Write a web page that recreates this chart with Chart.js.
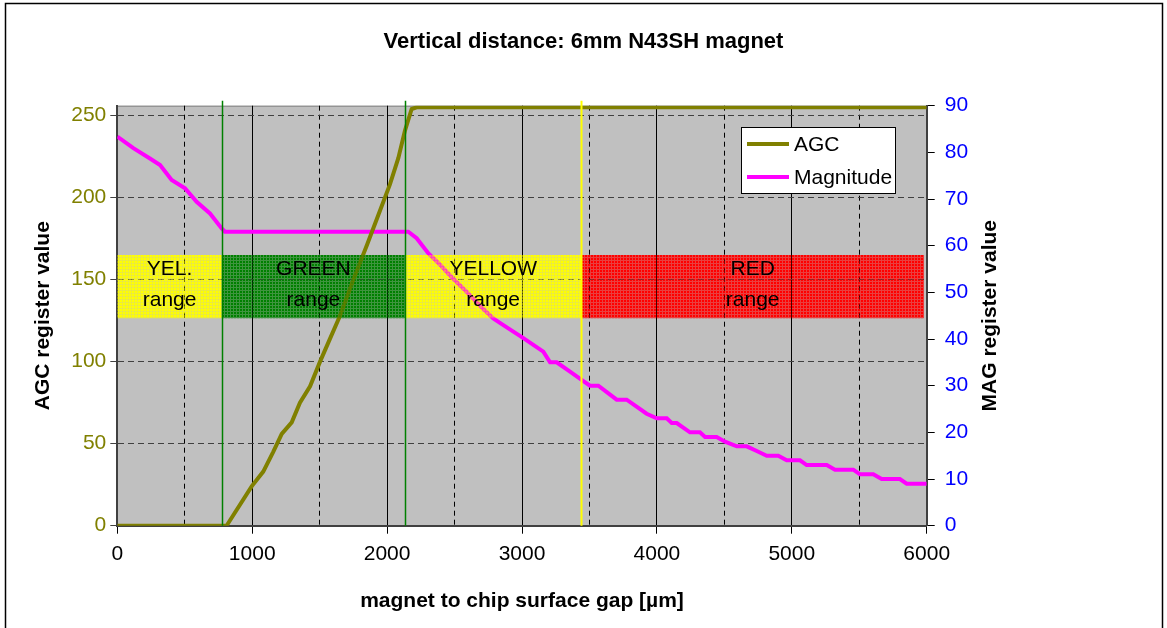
<!DOCTYPE html>
<html>
<head>
<meta charset="utf-8">
<title>Vertical distance: 6mm N43SH magnet</title>
<script src="https://cdn.jsdelivr.net/npm/chart.js@4/dist/chart.umd.min.js"></script>
<style>
html, body { margin: 0; padding: 0; background: #fff; }
canvas { display: block; }
</style>
</head>
<body>
<canvas id="chart" width="1167" height="628"></canvas>
<script>
// gap in µm, AGC register (left axis)
const agcGap   = [0, 810, 996, 1082, 1156, 1219, 1293, 1354, 1429, 1503, 1577, 1651, 1750, 1850, 1947, 2021, 2083, 2133, 2182, 2219, 6000];
const agcValue = [0, 0, 24, 33, 45, 56, 63, 75, 85, 100, 114, 128, 150, 171, 192, 208, 224, 241, 254, 255, 255];

// gap in µm, magnitude register (right axis)
const magGap   = [0, 119, 242, 317, 403, 502, 588, 687, 774, 798, 2157, 2219, 2305, 2390, 2480, 2590, 2689, 2787, 2839, 3010, 3158, 3208, 3257, 3356, 3455, 3504, 3566, 3702, 3776, 3924, 3999, 4073, 4110, 4147, 4245, 4319, 4357, 4443, 4505, 4592, 4666, 4740, 4814, 4900, 4962, 5061, 5110, 5259, 5320, 5456, 5505, 5604, 5666, 5801, 5852, 6000];
const magValue = [83.4, 80.9, 78.7, 77.3, 74.1, 72.3, 69.4, 66.9, 63.7, 63, 63, 61.6, 58.4, 56, 53.2, 50.1, 47.1, 44.4, 43.4, 40.2, 37.3, 35, 35, 33, 31, 30, 30, 27, 27, 24, 23, 23, 22, 22, 20, 20, 19, 19, 18, 17, 17, 16, 15, 15, 14, 14, 13, 13, 12, 12, 11, 11, 10, 10, 9, 9];

// tick values
const agcTicks = [0, 50, 100, 150, 200, 250];
const magTicks = [0, 10, 20, 30, 40, 50, 60, 70, 80, 90];

// range bands (gap µm, AGC units)
const bandLabels = [['YEL.', 'range'], ['GREEN', 'range'], ['YELLOW', 'range'], ['RED', 'range']];
const bandFrom   = [0, 775, 2133, 3440];
const bandTo     = [775, 2133, 3440, 5980];
const bandColors = ['#ffff00', '#008000', '#ffff00', '#ff0000'];
const bandLow = 126.5;
const bandHigh = 165;

// vertical marker lines
const markerGap    = [775, 2133, 3440];
const markerColors = ['#008000', '#008000', '#ffff00'];

const family = "Arial, 'Liberation Sans', sans-serif";

function hatch(color) {
    const c = document.createElement('canvas');
    c.width = 3; c.height = 3;
    const g = c.getContext('2d');
    g.globalAlpha = 0.55;
    g.fillStyle = color;
    g.fillRect(0, 0, 3, 3);
    g.globalAlpha = 1;
    g.fillRect(0, 0, 2, 2);
    return g.createPattern(c, 'repeat');
}

function drawBands(chart, alpha) {
    const {ctx, scales: {x, y}} = chart;
    ctx.save();
    ctx.globalAlpha = alpha;
    const top = y.getPixelForValue(bandHigh);
    const bottom = y.getPixelForValue(bandLow);
    for (let i = 0; i < bandFrom.length; i++) {
        const l = x.getPixelForValue(bandFrom[i]);
        const r = x.getPixelForValue(bandTo[i]);
        ctx.fillStyle = hatch(bandColors[i]);
        ctx.fillRect(l, top, r - l, bottom - top);
    }
    ctx.restore();
}

const bandPlugin = {
    id: 'bands',
    beforeDraw(chart) {
        const {ctx, chartArea: a} = chart;
        ctx.save();
        ctx.fillStyle = '#c0c0c0';
        ctx.fillRect(a.left, a.top, a.right - a.left, a.bottom - a.top);
        ctx.strokeStyle = '#808080';
        ctx.lineWidth = 1;
        ctx.beginPath();
        ctx.moveTo(a.left, a.top + 0.5);
        ctx.lineTo(a.right, a.top + 0.5);
        ctx.stroke();
        ctx.restore();
        drawBands(chart, 1);
    },
    afterDatasetsDraw(chart) {
        drawBands(chart, 0.5);
        const {ctx, chartArea: a, scales: {x, y}} = chart;
        ctx.save();
        // marker lines
        for (let i = 0; i < markerGap.length; i++) {
            const px = Math.round(x.getPixelForValue(markerGap[i])) + 0.5;
            ctx.strokeStyle = markerColors[i];
            ctx.lineWidth = i === 2 ? 2 : 1.5;
            ctx.beginPath();
            ctx.moveTo(px, a.top - 5);
            ctx.lineTo(px, a.bottom);
            ctx.stroke();
        }
        // band labels
        const mid = y.getPixelForValue((bandLow + bandHigh) / 2);
        ctx.fillStyle = '#000';
        ctx.font = '21px ' + family;
        ctx.textAlign = 'center';
        ctx.textBaseline = 'middle';
        for (let i = 0; i < bandLabels.length; i++) {
            const cx = x.getPixelForValue((bandFrom[i] + bandTo[i]) / 2);
            ctx.fillText(bandLabels[i][0], cx, mid - 17);
            ctx.fillText(bandLabels[i][1], cx, mid + 14);
        }
        ctx.restore();
    },
    afterDraw(chart) {
        const {ctx} = chart;
        ctx.save();
        // legend
        ctx.fillStyle = '#fff';
        ctx.fillRect(741, 127, 154, 66);
        ctx.strokeStyle = '#000';
        ctx.lineWidth = 1;
        ctx.strokeRect(741.5, 127.5, 154, 66);
        const rows = [144, 177];
        chart.data.datasets.forEach((ds, i) => {
            ctx.strokeStyle = ds.borderColor;
            ctx.lineWidth = 4;
            ctx.beginPath();
            ctx.moveTo(747, rows[i]);
            ctx.lineTo(789, rows[i]);
            ctx.stroke();
            ctx.fillStyle = '#000';
            ctx.font = '21px ' + family;
            ctx.textAlign = 'left';
            ctx.textBaseline = 'middle';
            ctx.fillText(ds.label, 794, rows[i] + 1);
        });
        // right axis title, reads bottom to top
        const y1 = chart.scales.y1;
        ctx.translate(990, (y1.top + y1.bottom) / 2);
        ctx.rotate(-Math.PI / 2);
        ctx.font = 'bold 21px ' + family;
        ctx.textAlign = 'center';
        ctx.fillText('MAG register value', 0, 0);
        ctx.restore();
        // outer frame
        ctx.save();
        ctx.strokeStyle = '#000';
        ctx.lineWidth = 1.5;
        ctx.strokeRect(5.5, 3.5, 1157, 640);
        ctx.restore();
    }
};

new Chart(document.getElementById('chart'), {
    type: 'line',
    data: {
        datasets: [{
            label: 'AGC',
            data: agcGap.map((g, i) => ({x: g, y: agcValue[i]})),
            yAxisID: 'y',
            borderColor: '#808000',
            borderWidth: 4,
            pointRadius: 0,
            tension: 0
        }, {
            label: 'Magnitude',
            data: magGap.map((g, i) => ({x: g, y: magValue[i]})),
            yAxisID: 'y1',
            borderColor: '#ff00ff',
            borderWidth: 4,
            pointRadius: 0,
            tension: 0
        }]
    },
    options: {
        responsive: false,
        animation: false,
        events: [],
        layout: { padding: 0 },
        plugins: {
            legend: { display: false },
            tooltip: { enabled: false },
            title: {
                display: true,
                text: 'Vertical distance: 6mm N43SH magnet',
                color: '#000',
                font: { family: family, size: 22, weight: 'bold' },
                padding: { top: 29, bottom: 50.3 }
            }
        },
        scales: {
            x: {
                type: 'linear',
                min: 0,
                max: 6000,
                afterFit: s => { s.height = 102.3; },
                ticks: {
                    stepSize: 500,
                    autoSkip: false,
                    maxRotation: 0,
                    color: '#000',
                    font: { family: family, size: 21 },
                    padding: 8,
                    callback: v => v % 1000 === 0 ? String(v) : ''
                },
                grid: {
                    color: '#000',
                    lineWidth: 1,
                    tickLength: 8,
                    tickColor: c => (c.tick && c.tick.value % 1000 === 0) ? '#000' : 'rgba(0,0,0,0)'
                },
                border: {
                    color: '#404040',
                    width: 2,
                    dash: c => (c.tick && c.tick.value % 1000 !== 0) ? [5, 4] : []
                },
                title: {
                    display: true,
                    text: 'magnet to chip surface gap [µm]',
                    color: '#000',
                    font: { family: family, size: 21, weight: 'bold' },
                    padding: { top: 0, bottom: 14 }
                }
            },
            y: {
                position: 'left',
                min: 0,
                max: 256,
                afterFit: s => { s.width = 117.3; },
                afterBuildTicks: s => { s.ticks = agcTicks.map(v => ({value: v})); },
                ticks: {
                    color: '#808000',
                    font: { family: family, size: 21 },
                    padding: 4
                },
                grid: {
                    color: c => (c.tick && c.tick.value === 0) ? 'rgba(0,0,0,0)' : '#404040',
                    tickColor: '#404040',
                    tickLength: 7
                },
                border: {
                    color: '#404040',
                    width: 2,
                    dash: c => c.tick ? [6, 4] : []
                },
                title: {
                    display: true,
                    text: 'AGC register value',
                    color: '#000',
                    font: { family: family, size: 21, weight: 'bold' },
                    padding: { top: 31, bottom: 0 }
                }
            },
            y1: {
                position: 'right',
                min: 0,
                max: 90,
                afterFit: s => { s.width = 240.3; },
                afterBuildTicks: s => { s.ticks = magTicks.map(v => ({value: v})); },
                ticks: {
                    color: '#0000ff',
                    font: { family: family, size: 21 },
                    padding: 10
                },
                grid: {
                    drawOnChartArea: false,
                    tickColor: '#000',
                    tickLength: 8
                },
                border: { color: '#404040', width: 2 }
            }
        }
    },
    plugins: [bandPlugin]
});
</script>
</body>
</html>
